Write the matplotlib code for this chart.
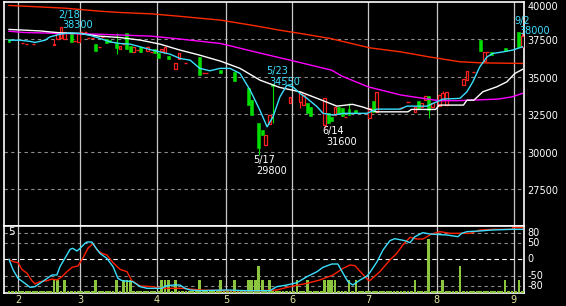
import numpy as np
import matplotlib
matplotlib.use("Agg")
import matplotlib.pyplot as plt
from matplotlib.transforms import offset_copy

# Daily candles (trading day index, open, high, low, close)
days = [0, 4, 5, 7, 13, 14, 15, 16, 18, 19,
        20, 21, 22, 23, 24, 25, 26, 27, 28, 29,
        31, 32, 33, 34, 35, 36, 37, 38, 40, 41,
        42, 43, 44, 45, 46, 48, 49, 51, 55, 56,
        57, 61, 65, 69, 70, 72, 73, 74, 75, 76,
        81, 84, 85, 86, 87, 91, 92, 93, 94, 95,
        96, 97, 98, 100, 104, 105, 106, 113, 115, 117,
        118, 119, 120, 121, 122, 124, 125, 126, 131, 132,
        134, 136, 137, 138, 139, 143, 147, 148]
opens = [37500, 37270, 37230, 37170, 37120, 37500, 37570, 37500, 37900, 37370,
         37340, 37970, 37970, 37570, 37570, 37190, 37010, 37680, 37500, 37450,
         37270, 36870, 37230, 37940, 37050, 36670, 36790, 37010, 36740, 36670,
         36830, 36600, 36740, 36570, 36390, 35500, 36170, 35900, 36340, 35230,
         35230, 35450, 35340, 34250, 33450, 31900, 31450, 30450, 31850, 34550,
         33230, 33340, 33120, 33230, 33010, 31790, 32570, 32340, 32450, 32970,
         32900, 32340, 32850, 32790, 32230, 33390, 32670, 32900, 33340, 32670,
         33390, 32970, 33450, 33720, 32970, 33050, 33450, 33120, 34450, 34790,
         35340, 37450, 36070, 36650, 36650, 36920, 37970, 37010]
closes = [37320, 37270, 37230, 37170, 37230, 37900, 38300, 38010, 37340, 37370,
          37940, 37970, 37970, 37570, 37570, 36740, 37010, 37680, 37270, 37300,
          36940, 37050, 37230, 36870, 36630, 37010, 36790, 36670, 36970, 36670,
          36600, 36230, 36860, 36970, 36170, 35940, 36570, 35900, 35120, 35230,
          35230, 35270, 34740, 33120, 32450, 30230, 31120, 31120, 32450, 34420,
          33630, 34010, 33790, 32570, 32390, 33570, 31900, 32070, 32970, 32600,
          32400, 32340, 32450, 32600, 32900, 32670, 33970, 32900, 33340, 32970,
          32900, 33230, 33720, 32790, 33230, 33790, 33940, 34010, 34830, 35390,
          35340, 36740, 36630, 36650, 36470, 36740, 37010, 37720]
highs = [37500, 37270, 37230, 37170, 37500, 37900, 38300, 38010, 37900, 37370,
         37940, 37970, 37970, 37570, 37570, 37190, 37010, 37680, 37500, 37450,
         37940, 37050, 37230, 37940, 37050, 37010, 36790, 37010, 37050, 36670,
         36830, 36600, 36860, 36970, 36390, 35940, 36570, 35900, 36340, 35230,
         35230, 35450, 35340, 34250, 33450, 31900, 31450, 31120, 32450, 34550,
         33630, 34010, 33790, 33230, 33010, 33570, 32570, 32340, 32970, 32970,
         32900, 32340, 33230, 32790, 32900, 33390, 33970, 33000, 33340, 32970,
         33390, 33230, 33720, 33720, 33230, 33790, 34050, 34010, 34830, 35390,
         35340, 37450, 36630, 36650, 36650, 36920, 37970, 38000]
lows = [37320, 37270, 37230, 37170, 37120, 37500, 37570, 37500, 37340, 37370,
        37340, 37970, 37970, 37570, 37570, 36740, 37010, 37680, 37270, 37300,
        36520, 36870, 37230, 36870, 36630, 36670, 36790, 36670, 36740, 36670,
        36600, 36230, 36740, 36570, 36170, 35500, 36170, 35900, 35120, 35230,
        35230, 35270, 34740, 33120, 32450, 29800, 31120, 30450, 31850, 31920,
        33230, 32920, 33120, 32570, 32390, 31600, 31900, 32070, 32450, 32600,
        32400, 32340, 32450, 32600, 32230, 32670, 32670, 32900, 33340, 32670,
        32900, 32970, 33450, 32230, 32970, 33050, 33450, 33120, 34450, 34790,
        35340, 36740, 36070, 36650, 36470, 36740, 37010, 37010]

# Moving averages (day index, price)
ma_long_day = [0, 9, 16, 20.5, 26, 32, 41, 48, 61, 70, 78, 84, 92.5, 104, 113, 121, 130, 136, 148]
ma_long_val = [39770, 39670, 39590, 39500, 39390, 39300, 39210, 39070, 38790, 38450,
               38120, 37900, 37570, 36940, 36670, 36340, 36010, 35940, 35900]
ma_mid_day = [0, 4, 15, 26, 41, 48, 61, 72, 81, 93, 96, 103.5, 113, 124, 130, 141, 145, 148]
ma_mid_val = [38050, 37970, 37900, 37850, 37720, 37560, 37230, 36610, 36120, 35450,
              35050, 34340, 33790, 33410, 33420, 33520, 33670, 33900]
ma_25_day = [0, 9, 12, 15, 20.5, 26, 32, 38, 43.5, 49, 55, 61, 66.6, 72.3, 78, 84,
             89.6, 94.5, 99, 102, 106, 115, 116, 123, 124, 131, 132, 134, 136.6,
             140.6, 143.5, 145.8, 148]
ma_25_val = [38170, 38070, 38000, 37940, 37900, 37720, 37630, 37450, 37190, 36810,
             36450, 36050, 35570, 34790, 34300, 34000, 33500, 33050, 33170, 32990,
             32670, 32670, 32830, 32830, 33120, 33120, 33450, 33450, 34010, 34340,
             34670, 35230, 35500]
ma_5_day = [0, 3.2, 6.1, 7.5, 10.4, 11.8, 14.7, 17.6, 20.5, 23.3, 26.2, 29.1, 32,
            34.9, 37.8, 40.6, 43.5, 46.4, 49.3, 52.2, 55, 57.9, 60.8, 63.7, 66.6,
            69.5, 72.3, 74.4, 76.1, 78.1, 80.1, 81.8, 83.9, 85.9, 88.8, 90.5, 93.4,
            96.3, 103.2, 106, 112.7, 114.7, 120.5, 122.2, 125.1, 130, 132, 133.7,
            135.7, 137.8, 139.5, 142.4, 145.2, 148]
ma_5_val = [37450, 37450, 37370, 37300, 37450, 37670, 37850, 37940, 37900, 37780,
            37570, 37340, 37230, 37190, 37010, 36830, 36670, 36520, 36230, 36120,
            35570, 35410, 35570, 35570, 35230, 34120, 32790, 31670, 32340, 33670,
            34450, 34340, 33900, 33570, 33010, 32570, 32450, 32570, 32570, 32850,
            32850, 33050, 33050, 33230, 33520, 33570, 34010, 34670, 35670, 36340,
            36570, 36670, 36790, 37010]

# Oscillators in the lower panel (day index, value)
osc_fast_day = [0, 1.2, 2.6, 4.6, 6.1, 7.5, 8.9, 11, 12.4, 13.8, 14.7, 16.1, 17.6,
                18.4, 19.6, 20.5, 21.9, 22.5, 23.9, 24.8, 26.2, 28.2, 30, 31.4,
                32.6, 35.7, 37.8, 39.8, 44.1, 45, 47.3, 49.3, 50.7, 52.2, 55, 62.8,
                68, 75.2, 77.2, 80.1, 83, 85.9, 88.8, 90.5, 93.1, 94.8, 96.3, 97.7,
                99.1, 101.2, 103.2, 104, 106.1, 107.8, 109.8, 111.2, 114.1, 115.6,
                117, 119.3, 121.3, 126.2, 129.4, 130.5, 132, 135.7, 139.2, 145, 148]
osc_fast_val = [0, -32, -57, -72, -84, -82, -72, -57, -47, -47, -22, 3, 30,
                33, 25, 33, 48, 52, 52, 38, 18, 3, -22, -57,
                -64, -67, -82, -87, -87, -80, -77, -77, -87, -92, -94, -92,
                -94, -94, -82, -77, -70, -52, -37, -24, -14, -14, -42, -67,
                -77, -62, -50, -40, -7, 28, 56, 62, 56, 50,
                68, 80, 76, 73, 68, 78, 83, 85, 88, 90, 90]
osc_slow_day = [0, 1.2, 2.6, 3.7, 5.2, 6.6, 7.5, 8.9, 11, 12.4, 13.8, 15.3, 16.7,
                18.2, 19.9, 21.3, 22.8, 24.2, 25.4, 26.8, 28.2, 30, 32, 34, 35.4,
                37.8, 41.5, 43.5, 50, 55, 62.8, 72.3, 77.2, 81, 85.9, 89.6, 93.4,
                96.3, 98.3, 99.7, 101.7, 103.5, 104, 106.9, 109.8, 111.8, 113.5,
                115.6, 117.6, 119.3, 121.9, 124.2, 127.1, 132.9, 135.7, 139.5, 145,
                145.2, 148]
osc_slow_val = [0, -7, -10, -30, -42, -64, -74, -67, -64, -59, -62, -52, -37,
                -24, -20, 4, 34, 47, 28, 18, 13, -10, -30, -37, -64,
                -80, -82, -87, -87, -92, -94, -94, -92, -82, -72, -62, -47,
                -27, -17, -19, -42, -62, -64, -37, -2, 18, 43,
                66, 61, 61, 76, 83, 78, 78, 88, 90, 90,
                95, 95]

# Volume (units) on the days with trades
vol_days = [13, 14, 16, 25, 31, 33, 34, 35, 44, 45, 46, 48, 55, 61, 65, 69, 70, 71,
            72, 73, 75, 83, 86, 91, 92, 93, 94, 98, 100, 117, 121, 125, 130, 143, 147]
vol_units = [1, 1, 1, 1, 1, 1, 1, 1, 1, 1, 1, 1, 1, 1, 1, 1, 1, 1,
             2, 1, 1, 1, 1, 1, 1, 1, 1, 1, 1, 1, 4, 1, 2, 1, 1]
n_days = 149

month_pos = [2.6, 20.5, 42.65, 62.5, 81.6, 103.5, 123.3, 145.5]
month_labels = ['2', '3', '4', '5', '6', '7', '8', '9']
price_ticks = [40000, 37500, 35000, 32500, 30000, 27500]
osc_ticks = [80, 50, 0, -50, -80]

RED = '#ff2020'
GREEN = '#00dd00'
CYAN = '#3ce0ff'
GRID = '#8c8c8c'

fig = plt.figure(figsize=(5.66, 3.06), dpi=100, facecolor='black')
ax = fig.add_axes([4 / 566, 1 - 226 / 306, 520 / 566, 224 / 306])
axg = fig.add_axes([4 / 566, 1 - 293 / 306, 520 / 566, 67 / 306])
axv = axg.twinx()
axo = axg.twinx()

# Main price panel
ax.set_facecolor('black')
ax.set_xlim(-1.44, 148.45)
ax.set_ylim(25050, 40000)
for p in price_ticks[1:]:
    ax.axhline(p, color=GRID, lw=0.8, ls=(0, (3, 3)), zorder=1)
for m in month_pos:
    ax.axvline(m, color='#c8c8c8', lw=0.9, zorder=1)

x = np.array(days)
o = np.array(opens)
c = np.array(closes)
h = np.array(highs)
l = np.array(lows)
up = c > o
down = c < o
flat = c == o
ax.vlines(x, l, h, colors=np.where(down, GREEN, RED), lw=0.8, zorder=3)
ax.bar(x[up], (c - o)[up], bottom=o[up], width=0.8, facecolor='black',
       edgecolor=RED, lw=0.9, zorder=4)
ax.bar(x[down], (o - c)[down], bottom=c[down], width=0.85, color=GREEN,
       edgecolor=GREEN, lw=0.4, zorder=4)
ax.hlines(o[flat], x[flat] - 0.45, x[flat] + 0.45, colors=RED, lw=1.0, zorder=4)

ax.plot(ma_long_day, ma_long_val, color='#ff2a00', lw=1.0, zorder=5)
ax.plot(ma_mid_day, ma_mid_val, color='#ff00ff', lw=1.0, zorder=5)
ax.plot(ma_25_day, ma_25_val, color='white', lw=1.0, zorder=5)
ax.plot(ma_5_day, ma_5_val, color=CYAN, lw=1.0, zorder=6)

# Peak / trough notes
ax.text(14.1, 39450, '2/18', color=CYAN, fontsize=7, va='top')
ax.text(15.3, 38790, '38300', color=CYAN, fontsize=7, va='top')
ax.text(74.1, 35720, '5/23', color=CYAN, fontsize=7, va='top')
ax.text(74.9, 34990, '34550', color=CYAN, fontsize=7, va='top')
ax.text(70.3, 29790, '5/17', color='white', fontsize=7, va='top')
ax.text(71.2, 29050, '29800', color='white', fontsize=7, va='top')
ax.text(90.2, 31720, '6/14', color='white', fontsize=7, va='top')
ax.text(91.4, 30990, '31600', color='white', fontsize=7, va='top')
ax.text(145.8, 39050, '9/2', color=CYAN, fontsize=7, va='top')
ax.text(147.0, 38420, '38000', color=CYAN, fontsize=7, va='top')

ytr = offset_copy(ax.get_yaxis_transform(), fig=fig, y=-2, units='dots')
for p in price_ticks:
    if p == 40000:
        ax.text(1.006, p, str(p), transform=ax.get_yaxis_transform(),
                color='white', fontsize=7, ha='left', va='top')
    else:
        ax.text(1.006, p, str(p), transform=ytr, color='white', fontsize=7,
                ha='left', va='center')

ax.set_xticks([])
ax.set_yticks([])
for s in ax.spines.values():
    s.set_color('white')
    s.set_linewidth(1.2)

# Lower panel: grid, volume, oscillators
axg.set_facecolor('black')
axg.set_xlim(-1.44, 148.45)
axg.set_ylim(-101, 100)
for v in osc_ticks:
    if v == 0:
        axg.axhline(v, color='white', lw=0.8, ls=(0, (4, 3)), zorder=1)
    else:
        axg.axhline(v, color=GRID, lw=0.8, ls=(0, (3, 3)), zorder=1)
for m in month_pos:
    axg.axvline(m, color='#c8c8c8', lw=0.9, zorder=1)
axg.set_xticks(month_pos)
axg.set_xticklabels(month_labels)
axg.tick_params(axis='x', length=0, pad=1.5, labelcolor='#e8e8a0', labelsize=7)
axg.set_yticks([])
for s in axg.spines.values():
    s.set_color('white')
    s.set_linewidth(1.2)
ytr2 = axg.get_yaxis_transform()
for v in osc_ticks:
    axg.text(1.006, v, str(v), transform=ytr2, color='white', fontsize=7,
             ha='left', va='center')
axg.text(0.008, 0.985, '5', transform=axg.transAxes, color='white',
         fontsize=7.5, ha='left', va='top')

vol = np.zeros(n_days)
vol[vol_days] = vol_units
axv.set_ylim(0, 5)
axv.bar(np.arange(n_days), np.maximum(vol, 0.15), width=0.8, color='#8cc63f')
axv.set_yticks([])
for s in axv.spines.values():
    s.set_visible(False)

axo.set_ylim(-101, 100)
axo.plot(osc_slow_day, osc_slow_val, color='#ff2000', lw=1.0)
axo.plot(osc_fast_day, osc_fast_val, color=CYAN, lw=1.0)
axo.set_yticks([])
for s in axo.spines.values():
    s.set_visible(False)

fig.savefig('out.png', dpi=100, facecolor='black')
